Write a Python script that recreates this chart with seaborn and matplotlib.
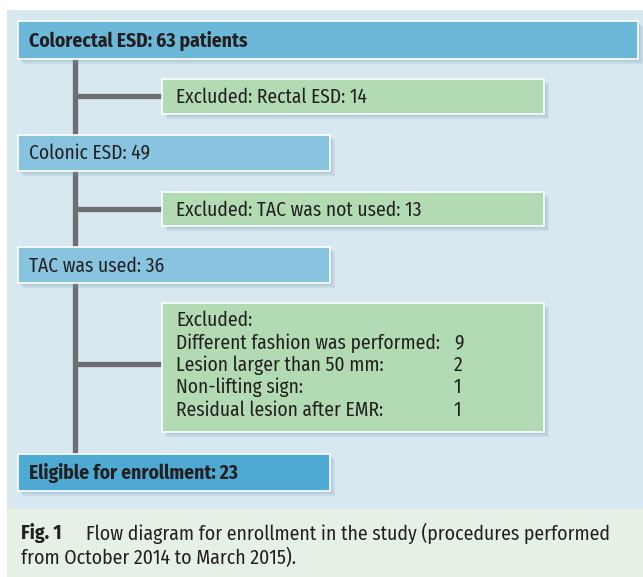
import matplotlib
matplotlib.use("Agg")
import matplotlib.pyplot as plt
import seaborn as sns
from matplotlib.patches import Rectangle

sns.set_theme(style="white")
plt.rcParams['font.family'] = ['Fira Sans Condensed', 'DejaVu Sans']

# ---- data ----
main_labels = ["Colorectal ESD: 63 patients", "Colonic ESD: 49", "TAC was used: 36", "Eligible for enrollment: 23"]
main_bold = [True, False, False, True]
excluded_single = ["Excluded: Rectal ESD: 14", "Excluded: TAC was not used: 13"]
excluded_header = "Excluded:"
reasons = ["Different fashion was performed:", "Lesion larger than 50 mm:", "Non-lifting sign:", "Residual lesion after EMR:"]
reason_counts = [9, 2, 1, 1]
caption_bold = "Fig. 1"
caption_lines = ["Flow diagram for enrollment in the study (procedures performed",
                 "from October 2014 to March 2015)."]

# ---- layout (pixel units) ----
W, H = 643, 577
fig = plt.figure(figsize=(W/100, H/100), dpi=100)
ax = fig.add_axes([0, 0, 1, 1])
ax.set_xlim(0, W)
ax.set_ylim(H, 0)
ax.axis("off")

TXT = "#231f20"
FS = 14.0
ax.add_patch(Rectangle((7, 10), W-7, 499, fc="#d7e8f0", ec="none", zorder=0))
ax.add_patch(Rectangle((7, 509), W-7, H-509, fc="#e6f1e6", ec="none", zorder=0))

def box(x0, y0, x1, y1, fc):
    for i, a in enumerate([0.10, 0.14, 0.18]):
        off = 5 - i * 1.3
        ax.add_patch(Rectangle((x0 + off, y0 + off), x1 - x0, y1 - y0,
                               fc="#6f98b3", ec="none", alpha=a, zorder=2))
    ax.add_patch(Rectangle((x0, y0), x1 - x0, y1 - y0, fc=fc, ec="white", lw=1.2, zorder=3))

# connector lines
LINE = "#6d6e71"
ax.plot([75, 75], [59, 454], color=LINE, lw=3.8, solid_capstyle="butt", zorder=1)
for yy in [96, 209, 364]:
    ax.plot([75, 162], [yy, yy], color=LINE, lw=3.8, solid_capstyle="butt", zorder=1)

main_boxes = [(18, 21, 638, 59, "#6cb8d9"), (18, 135, 330, 171, "#88c4e0"),
              (18, 247, 330, 283, "#88c4e0"), (18, 454, 330, 491, "#4eaad2")]
for (x0, y0, x1, y1, fc), lab, b in zip(main_boxes, main_labels, main_bold):
    box(x0, y0, x1, y1, fc)
    ax.text(29, (y0 + y1) / 2 + 1, lab, fontsize=FS, fontweight="bold" if b else "normal",
            color=TXT, va="center", ha="left", zorder=4)

GREEN = "#b2dbb3"
ex_boxes = [(162, 79, 544, 114), (162, 192, 544, 226)]
for (x0, y0, x1, y1), lab in zip(ex_boxes, excluded_single):
    box(x0, y0, x1, y1, GREEN)
    ax.text(176, (y0 + y1) / 2 + 1, lab, fontsize=FS, color=TXT, va="center", ha="left", zorder=4)

box(162, 303, 544, 432, GREEN)
ys = [320, 343, 365, 387, 410]
ax.text(176, ys[0], excluded_header, fontsize=FS, color=TXT, va="center", ha="left", zorder=4)
for yy, r, c in zip(ys[1:], reasons, reason_counts):
    ax.text(176, yy, r, fontsize=FS, color=TXT, va="center", ha="left", zorder=4)
    ax.text(454, yy, str(c), fontsize=FS, color=TXT, va="center", ha="left", zorder=4)

ax.text(21, 533, caption_bold, fontsize=14.2, fontweight="bold", color=TXT, va="center", ha="left")
ax.text(86, 533, caption_lines[0], fontsize=14.2, color=TXT, va="center", ha="left")
ax.text(21, 558, caption_lines[1], fontsize=14.2, color=TXT, va="center", ha="left")

fig.savefig("out.png", dpi=100, facecolor="white")
